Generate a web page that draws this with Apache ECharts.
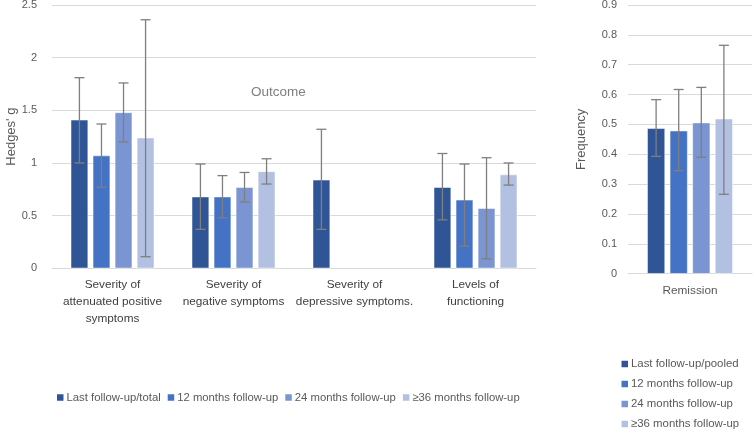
<!DOCTYPE html>
<html>
<head>
<meta charset="utf-8">
<script src="https://cdn.jsdelivr.net/npm/echarts@6/dist/echarts.min.js"></script>
<style>html,body{margin:0;padding:0;background:#fff}#c{width:754px;height:431px}</style>
</head>
<body>
<div id="c"></div>
<script>
// ---- data ----
const categories = ['Severity of\nattenuated positive\nsymptoms', 'Severity of\nnegative symptoms', 'Severity of\ndepressive symptoms.', 'Levels of\nfunctioning'];
const leftNames = ['Last follow-up/total', '12 months follow-up', '24 months follow-up', '≥36 months follow-up'];
const lastTotal   = [1.41, 0.68, 0.84, 0.77];
const m12         = [1.07, 0.68, null, 0.65];
const m24         = [1.48, 0.77, null, 0.57];
const m36         = [1.24, 0.92, null, 0.89];
const lastTotalHi = [1.81, 0.99, 1.32, 1.09];
const lastTotalLo = [1.00, 0.37, 0.37, 0.46];
const m12Hi       = [1.37, 0.88, null, 0.99];
const m12Lo       = [0.77, 0.48, null, 0.21];
const m24Hi       = [1.76, 0.91, null, 1.05];
const m24Lo       = [1.20, 0.63, null, 0.09];
const m36Hi       = [2.36, 1.04, null, 1.00];
const m36Lo       = [0.11, 0.80, null, 0.79];
const leftTicks = [0, 0.5, 1, 1.5, 2, 2.5];

const rightCategories = ['Remission'];
const rightNames = ['Last follow-up/pooled', '12 months follow-up', '24 months follow-up', '≥36 months follow-up'];
const remission   = [0.487, 0.479, 0.506, 0.519];
const remissionHi = [0.583, 0.617, 0.624, 0.765];
const remissionLo = [0.393, 0.345, 0.390, 0.266];
const rightTicks = [0, 0.1, 0.2, 0.3, 0.4, 0.5, 0.6, 0.7, 0.8, 0.9];

const colors = ['#2F5597', '#4472C4', '#7B94D2', '#B2C0E2'];
const FONT = '"Liberation Sans", sans-serif';
const CAT_GAP = 0.31, BAR_GAP = 0.27, N = 4;

function errSeries(xi, yi, idx, hi, lo) {
  const data = hi.map((h, i) => (h == null ? null : [i, h, lo[i]])).filter(d => d);
  return {
    type: 'custom', xAxisIndex: xi, yAxisIndex: yi, z: 5, silent: true,
    encode: { x: 0, y: [1, 2] },
    data: data,
    renderItem: function (params, api) {
      const c = api.value(0);
      const band = api.size([1, 0])[0];
      const w = band * (1 - CAT_GAP) / (N + (N - 1) * BAR_GAP);
      const group = w * N + w * BAR_GAP * (N - 1);
      const off = -group / 2 + idx * w * (1 + BAR_GAP) + w / 2;
      const pH = api.coord([c, api.value(1)]);
      const pL = api.coord([c, api.value(2)]);
      const x = pH[0] + off;
      const cap = 5;
      const st = { stroke: '#7F7F7F', lineWidth: 1.3 };
      return { type: 'group', children: [
        { type: 'line', shape: { x1: x, y1: pH[1], x2: x, y2: pL[1] }, style: st },
        { type: 'line', shape: { x1: x - cap, y1: pH[1], x2: x + cap, y2: pH[1] }, style: st },
        { type: 'line', shape: { x1: x - cap, y1: pL[1], x2: x + cap, y2: pL[1] }, style: st }
      ]};
    }
  };
}

function barSeries(name, data, xi, yi, idx) {
  return {
    name: name, type: 'bar', xAxisIndex: xi, yAxisIndex: yi, data: data,
    barCategoryGap: '31%', barGap: '27%',
    itemStyle: { color: colors[idx], borderColor: '#ffffff', borderWidth: 0.5 }
  };
}

const leftVals = [lastTotal, m12, m24, m36];
const leftHi = [lastTotalHi, m12Hi, m24Hi, m36Hi];
const leftLo = [lastTotalLo, m12Lo, m24Lo, m36Lo];

const series = [];
leftNames.forEach((n, i) => series.push(barSeries(n, leftVals[i], 0, 0, i)));
rightNames.forEach((n, i) => series.push(barSeries(n, [remission[i]], 1, 1, i)));
leftNames.forEach((n, i) => series.push(errSeries(0, 0, i, leftHi[i], leftLo[i])));
rightNames.forEach((n, i) => series.push(errSeries(1, 1, i, [remissionHi[i]], [remissionLo[i]])));

const axisLabelStyle = { color: '#595959', fontSize: 11, fontFamily: FONT };
const legendItemStyle = { borderWidth: 0 };
const chart = echarts.init(document.getElementById('c'));
chart.setOption({
  animation: false,
  color: colors,
  textStyle: { fontFamily: FONT },
  title: { text: 'Outcome', left: 246, top: 80, textStyle: { color: '#7F7F7F', fontSize: 13.5, fontWeight: 'normal', fontFamily: FONT } },
  grid: [
    { left: 52, right: 218, top: 5, bottom: 162.7, containLabel: false, outerBoundsMode: 'none' },
    { left: 628, right: 2, top: 5, bottom: 157.3, containLabel: false, outerBoundsMode: 'none' }
  ],
  xAxis: [
    { type: 'category', gridIndex: 0, data: categories,
      axisLine: { lineStyle: { color: '#D9D9D9' } }, axisTick: { show: false },
      axisLabel: { color: '#404040', fontSize: 11.8, fontFamily: FONT, lineHeight: 17, margin: 8, interval: 0 } },
    { type: 'category', gridIndex: 1, data: rightCategories,
      axisLine: { lineStyle: { color: '#D9D9D9' } }, axisTick: { show: false },
      axisLabel: { color: '#595959', fontSize: 11.8, fontFamily: FONT, margin: 11 } }
  ],
  yAxis: [
    { type: 'value', gridIndex: 0, min: leftTicks[0], max: leftTicks[leftTicks.length - 1], interval: 0.5,
      name: "Hedges' g", nameLocation: 'middle', nameGap: 34, nameRotate: 90, nameMoveOverlap: false,
      nameTextStyle: { color: '#595959', fontSize: 13, fontFamily: FONT },
      axisLine: { show: false }, axisTick: { show: false },
      splitLine: { lineStyle: { color: '#D9D9D9' } },
      axisLabel: Object.assign({ margin: 15 }, axisLabelStyle) },
    { type: 'value', gridIndex: 1, min: rightTicks[0], max: rightTicks[rightTicks.length - 1], interval: 0.1,
      name: 'Frequency', nameLocation: 'middle', nameGap: 40, nameRotate: 90,
      nameTextStyle: { color: '#595959', fontSize: 13, fontFamily: FONT },
      axisLine: { show: false }, axisTick: { show: false },
      splitLine: { lineStyle: { color: '#D9D9D9' } },
      axisLabel: Object.assign({ margin: 11, formatter: v => (v === 0 ? '0' : v.toFixed(1)) }, axisLabelStyle) }
  ],
  legend: [
    { data: leftNames, orient: 'horizontal', left: 57, top: 392, padding: 0, itemWidth: 6.5, itemHeight: 6.5, itemGap: 7,
      icon: 'rect', itemStyle: legendItemStyle,
      textStyle: { color: '#595959', fontSize: 11.3, fontFamily: FONT, padding: [0, 0, 0, -2] } },
    { data: rightNames, orient: 'vertical', left: 621.5, top: 357, height: 120, padding: 0, itemWidth: 6.5, itemHeight: 6.5, itemGap: 6,
      icon: 'rect', itemStyle: legendItemStyle,
      textStyle: { color: '#595959', fontSize: 11.4, fontFamily: FONT, lineHeight: 14, padding: [0, 0, 0, -2] } }
  ],
  series: series
});
</script>
</body>
</html>
